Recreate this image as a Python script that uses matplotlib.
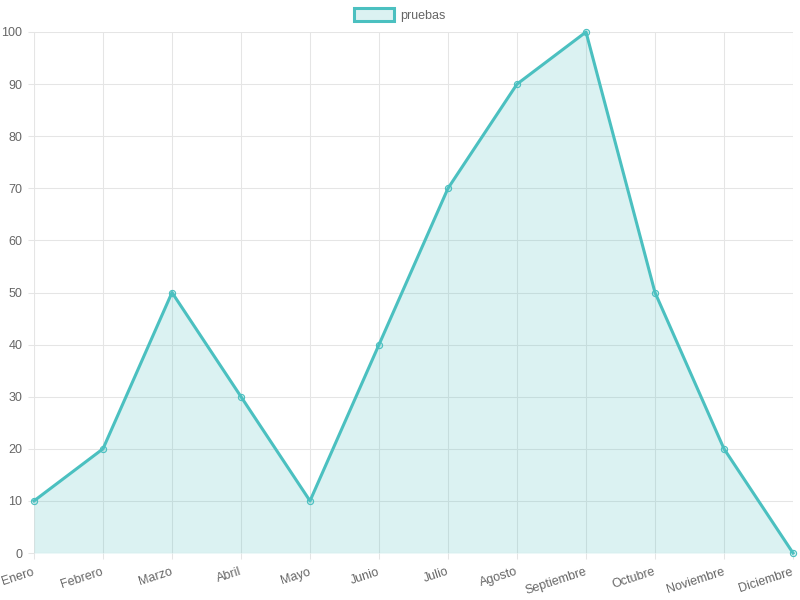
import matplotlib
matplotlib.use("Agg")
import matplotlib.pyplot as plt
from matplotlib.patches import Patch

months = ["Enero", "Febrero", "Marzo", "Abril", "Mayo", "Junio", "Julio",
          "Agosto", "Septiembre", "Octubre", "Noviembre", "Diciembre"]
values = [10, 20, 50, 30, 10, 40, 70, 90, 100, 50, 20, 0]
series_label = "pruebas"
y_ticks = [0, 10, 20, 30, 40, 50, 60, 70, 80, 90, 100]

plt.rcParams['font.family'] = ['Liberation Sans', 'DejaVu Sans']
line_c = (75/255, 192/255, 192/255)
fill_c = (75/255, 192/255, 192/255, 0.2)
text_c = "#666666"
grid_c = "#e5e5e5"

fig = plt.figure(figsize=(8, 6), dpi=100)
ax = fig.add_axes([34/800, 47/600, (793-34)/800, (553-32)/600])

x = list(range(len(months)))
ax.fill_between(x, values, 0, color=fill_c, linewidth=0, zorder=1)
ax.plot(x, values, color=line_c, linewidth=2.2, zorder=3, clip_on=False)
ax.scatter(x, values, s=20, facecolor=fill_c, edgecolor=line_c, linewidth=0.8,
           zorder=4, clip_on=False)

ax.set_xlim(0, len(months) - 1)
ax.set_ylim(0, 100)
ax.set_xticks(x)
ax.set_xticklabels(months, rotation=18, ha='right', va='center', rotation_mode='anchor')
ax.set_yticks(y_ticks)
for s in ax.spines.values():
    s.set_visible(False)
ax.tick_params(axis='both', color=grid_c, labelcolor=text_c, labelsize=9,
               length=4.3, width=0.75, grid_color=grid_c, grid_linewidth=0.75)
ax.tick_params(axis='x', pad=9)
ax.tick_params(axis='y', pad=4)
ax.grid(True)
ax.set_axisbelow(True)
ax.axhline(0, color="#c8c8c8", linewidth=0.75, zorder=2)
ax.axvline(0, color="#d0d0d0", linewidth=0.75, zorder=0.5)

handle = Patch(facecolor=fill_c, edgecolor=line_c, linewidth=2.2)
fig.legend([handle], [series_label], loc='center', bbox_to_anchor=(0.5, 1 - 15/600),
           frameon=False, fontsize=9, labelcolor=text_c, handlelength=3.2,
           handleheight=1.15, handletextpad=0.5, borderpad=0.1)

fig.savefig("out.png", dpi=100)
